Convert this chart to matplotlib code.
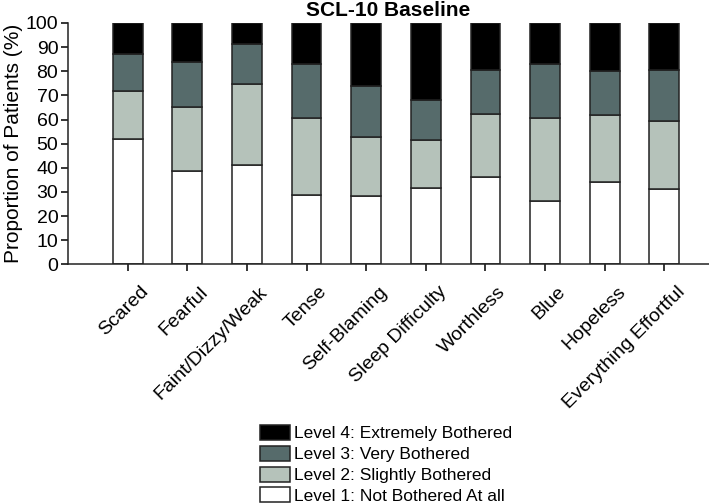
import numpy as np
import matplotlib
matplotlib.use('Agg')
import matplotlib.pyplot as plt
from matplotlib.transforms import ScaledTranslation

plt.rcParams['font.family'] = ['Liberation Sans', 'DejaVu Sans']

items = ['Scared', 'Fearful', 'Faint/Dizzy/Weak', 'Tense', 'Self-Blaming',
         'Sleep Difficulty', 'Worthless', 'Blue', 'Hopeless', 'Everything Effortful']
# percent of patients per level
level1 = [51.8, 38.5, 41.3, 28.8, 28.4, 31.6, 36.2, 26.2, 34.0, 31.2]
level2 = [20.2, 26.6, 33.4, 32.0, 24.2, 19.8, 26.1, 34.6, 27.9, 28.1]
level3 = [15.0, 18.7, 16.5, 22.2, 21.3, 16.7, 18.1, 22.2, 18.2, 21.1]
level4 = [13.0, 16.2, 8.8, 17.0, 26.1, 31.9, 19.6, 17.0, 19.9, 19.6]
labels = ['Level 1: Not Bothered At all', 'Level 2: Slightly Bothered',
          'Level 3: Very Bothered', 'Level 4: Extremely Bothered']
colors = ['white', '#b5c2ba', '#566b6b', 'black']

fig = plt.figure(figsize=(7.09, 5.03), dpi=100)
ax = fig.add_axes([0.096, 0.4746, 0.904, 0.4797])

x = np.arange(1, len(items) + 1)
bottom = np.zeros(len(items))
handles = []
for vals, lab, col in zip([level1, level2, level3, level4], labels, colors):
    b = ax.bar(x, vals, 0.5, bottom=bottom, color=col, edgecolor='#222222',
               linewidth=1.1, label=lab)
    handles.append(b)
    bottom += np.array(vals)

ax.set_xlim(0, 10.75)
ax.set_ylim(0, 100)
ax.set_yticks(range(0, 101, 10))
ax.set_xticks(x)
ax.set_xticklabels(items, rotation=45, ha='right', va='top',
                   rotation_mode='anchor', fontsize=14)
ax.tick_params(axis='y', labelsize=14, length=5, width=1.1, pad=2)
ax.tick_params(axis='x', length=5, width=1.1, pad=0)
# shift the rotated labels down-right like in the original
shift = ScaledTranslation(12 / 100, -12 / 100, fig.dpi_scale_trans)
for t in ax.get_xticklabels():
    t.set_transform(t.get_transform() + shift)
for s in ['top', 'right']:
    ax.spines[s].set_visible(False)
for s in ['left', 'bottom']:
    ax.spines[s].set_linewidth(1.1)
    ax.spines[s].set_color('#222222')

ax.set_ylabel('Proportion of Patients (%)', fontsize=15, labelpad=2)
fig.text(0.547, 0.998, 'SCL-10 Baseline', ha='center', va='top',
         fontsize=15, fontweight='bold')

fig.legend(handles[::-1], labels[::-1], loc='upper left',
           bbox_to_anchor=(260 / 709, 1 - 425 / 503), frameon=False,
           fontsize=12.5, handlelength=1.75, handleheight=0.95,
           handletextpad=0.2, labelspacing=0.25, borderpad=0, borderaxespad=0)

fig.savefig('out.png', dpi=100)
